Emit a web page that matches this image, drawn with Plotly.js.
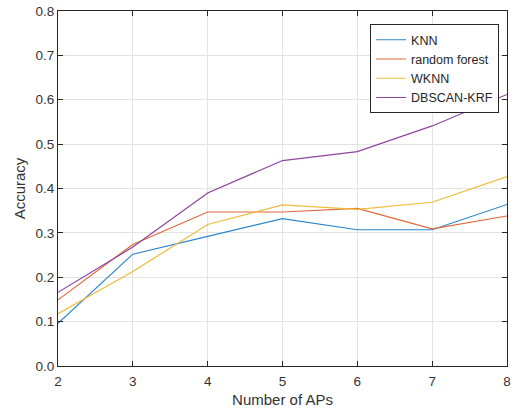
<!DOCTYPE html>
<html>
<head>
<meta charset="utf-8">
<script src="https://cdn.plot.ly/plotly-3.0.1.min.js"></script>
<style>html,body{margin:0;padding:0;background:#fff;}#chart{width:514px;height:413px;}</style>
</head>
<body>
<div id="chart"></div>
<script>
const aps = [2, 3, 4, 5, 6, 7, 8];
const knn = [0.096, 0.252, 0.292, 0.332, 0.307, 0.307, 0.364];
const randomForest = [0.149, 0.274, 0.347, 0.347, 0.355, 0.309, 0.338];
const wknn = [0.118, 0.213, 0.319, 0.363, 0.353, 0.369, 0.427];
const dbscanKrf = [0.166, 0.268, 0.390, 0.463, 0.483, 0.541, 0.612];
const seriesNames = ['KNN', 'random forest', 'WKNN', 'DBSCAN-KRF'];
const colors = ['#2a86cc', '#e0683a', '#efbb3a', '#8e44a0'];
const allSeries = [knn, randomForest, wknn, dbscanKrf];

const traces = allSeries.map((ys, i) => ({
  x: aps, y: ys, type: 'scatter', mode: 'lines', name: seriesNames[i],
  line: {color: colors[i], width: 1.2}
}));

const axisCommon = {
  showline: true, linecolor: '#262626', linewidth: 1, mirror: 'ticks',
  ticks: 'inside', ticklen: 5, tickcolor: '#262626',
  showgrid: true, gridcolor: '#e3e3e3', gridwidth: 1, zeroline: false,
  tickfont: {family: 'Liberation Sans, Arial, sans-serif', size: 13.5, color: '#333333'}
};

const layout = {
  width: 514, height: 413,
  margin: {l: 58, r: 7, t: 11, b: 47},
  paper_bgcolor: '#ffffff', plot_bgcolor: '#ffffff',
  showlegend: true,
  font: {family: 'Liberation Sans, Arial, sans-serif', color: '#262626'},
  xaxis: Object.assign({}, axisCommon, {
    range: [2, 8], tickvals: [2, 3, 4, 5, 6, 7, 8],
    ticklabelstandoff: 3,
    title: {text: 'Number of APs', font: {size: 15, color: '#333333'}, standoff: 6}
  }),
  yaxis: Object.assign({}, axisCommon, {
    range: [0, 0.8], tickvals: [0, 0.1, 0.2, 0.3, 0.4, 0.5, 0.6, 0.7, 0.8],
    tickformat: '.1f',
    title: {text: 'Accuracy', font: {size: 15, color: '#333333'}, standoff: 6}
  }),
  legend: {
    x: 0.695, y: 0.963, xanchor: 'left', yanchor: 'top',
    bordercolor: '#262626', borderwidth: 1, bgcolor: '#ffffff',
    font: {size: 12.5, color: '#262626'},
    tracegroupgap: 0, itemwidth: 30
  }
};

Plotly.newPlot('chart', traces, layout, {displayModeBar: false, staticPlot: true});
</script>
</body>
</html>
